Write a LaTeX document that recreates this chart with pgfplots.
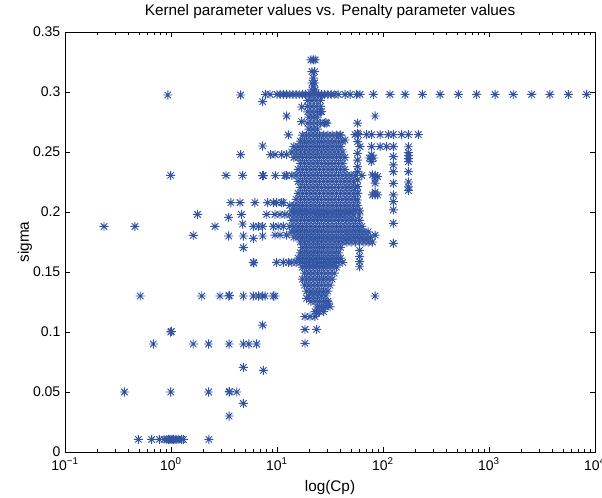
\documentclass[border=0pt]{standalone}
\usepackage{fontspec}
\setmainfont{Liberation Sans}
\usepackage{pgfplots}
\pgfplotsset{compat=1.18}
\definecolor{mk}{RGB}{50,84,162}
% matlab style asterisk: plus and cross together
\pgfdeclareplotmark{mstar}{%
  \pgfpathmoveto{\pgfqpoint{-\pgfplotmarksize}{0pt}}\pgfpathlineto{\pgfqpoint{\pgfplotmarksize}{0pt}}%
  \pgfpathmoveto{\pgfqpoint{0pt}{-\pgfplotmarksize}}\pgfpathlineto{\pgfqpoint{0pt}{\pgfplotmarksize}}%
  \pgfpathmoveto{\pgfqpoint{-.7071\pgfplotmarksize}{-.7071\pgfplotmarksize}}\pgfpathlineto{\pgfqpoint{.7071\pgfplotmarksize}{.7071\pgfplotmarksize}}%
  \pgfpathmoveto{\pgfqpoint{-.7071\pgfplotmarksize}{.7071\pgfplotmarksize}}\pgfpathlineto{\pgfqpoint{.7071\pgfplotmarksize}{-.7071\pgfplotmarksize}}%
  \pgfusepathqstroke}
\pgfplotsset{pts/.style={only marks, mark=mstar, mark size=3.4pt, color=mk, mark options={line width=0.7pt}}}

\begin{document}
\begin{tikzpicture}
\begin{axis}[
    scale only axis,
    width=397.5pt, height=315pt,
    xmin=-1, xmax=4, ymin=0, ymax=0.35,
    xtick={-1,0,1,2,3,4},
    xticklabels={10\textsuperscript{−1},10\textsuperscript{0},10\textsuperscript{1},10\textsuperscript{2},10\textsuperscript{3},10\textsuperscript{4}},
    minor xtick={-0.69897,-0.52288,-0.39794,-0.30103,-0.22185,-0.15490,-0.09691,-0.04576,
                 0.30103,0.47712,0.60206,0.69897,0.77815,0.84510,0.90309,0.95424,
                 1.30103,1.47712,1.60206,1.69897,1.77815,1.84510,1.90309,1.95424,
                 2.30103,2.47712,2.60206,2.69897,2.77815,2.84510,2.90309,2.95424,
                 3.30103,3.47712,3.60206,3.69897,3.77815,3.84510,3.90309,3.95424},
    ytick={0,0.05,0.1,0.15,0.2,0.25,0.3,0.35},
    yticklabels={0,0.05,0.1,0.15,0.2,0.25,0.3,0.35},
    tick align=inside,
    major tick length=3.5pt, minor tick length=2pt,
    every tick/.style={black, line width=0.5pt},
    axis line style={black, line width=0.6pt},
    tick label style={font=\fontsize{10.5}{12}\selectfont},
    xticklabel style={yshift=-1pt},
    title={Kernel parameter values vs. Penalty parameter values},
    every axis title/.style={font=\fontsize{11.5}{13}\selectfont, at={(axis description cs:0.5,1.0476)}, anchor=center},
    xlabel={log(Cp)},
    xlabel style={font=\fontsize{11.5}{13}\selectfont, at={(axis description cs:0.5,-0.0857)}, anchor=center},
    ylabel={sigma},
    ylabel style={font=\fontsize{11.5}{13}\selectfont, at={(axis description cs:-0.0755,0.5)}, anchor=center},
]
% scattered points, left and low
\addplot[pts] coordinates {
(-0.632,0.188) (-0.34,0.188) (-0.29,0.13) (-0.44,0.05) (-0.167,0.09)
(-0.003,0.1) (0.004,0.1005) (-0.003,0.05) (-0.03,0.2975) (-0.003,0.2305)
(0.21,0.1805) (0.25,0.198) (0.21,0.09) (0.29,0.13) (0.355,0.09) (0.355,0.05) (0.357,0.0105)
(0.415,0.188) (0.462,0.13) (0.519,0.2305) (0.544,0.1955) (0.544,0.18) (0.545,0.13) (0.55,0.1305)
(0.548,0.09) (0.548,0.05) (0.552,0.0505) (0.62,0.05) (0.548,0.03)
(0.565,0.2078) (0.651,0.2078) (0.657,0.2975) (0.657,0.2478) (0.665,0.198) (0.676,0.19) (0.682,0.18)
(0.682,0.1703) (0.676,0.2305) (0.682,0.13) (0.682,0.09) (0.735,0.09) (0.808,0.09) (0.682,0.0705) (0.682,0.0405)
(0.871,0.068) (0.865,0.1058) (0.777,0.188) (0.824,0.188) (0.865,0.188) (0.777,0.178) (0.865,0.18)
(0.777,0.158) (0.782,0.1575) (0.777,0.13) (0.824,0.13) (0.865,0.13) (0.887,0.13) (0.965,0.13) (0.981,0.13)
(0.792,0.2078) (0.912,0.2078) (0.965,0.2078) (0.997,0.2078) (1.044,0.2078) (1.06,0.2078)
(0.865,0.292) (0.865,0.255) (0.94,0.2478) (0.981,0.2478) (1.044,0.2478) (1.091,0.2478)
(0.865,0.2303) (0.871,0.2303) (0.984,0.2303) (1.075,0.2303) (1.091,0.2303)
(0.903,0.198) (0.981,0.198) (1.028,0.198) (1.075,0.198)
(0.965,0.188) (1.012,0.188) (1.06,0.188)
(0.981,0.1808) (1.028,0.1808) (1.091,0.1808)
(0.997,0.158) (1.06,0.158) (1.107,0.158)
(-0.308,0.0105) (-0.182,0.0105) (-0.11,0.0105) (-0.066,0.0105) (-0.04,0.0105) (-0.025,0.0105)
(-0.01,0.0105) (0.0,0.0105) (0.01,0.0105) (0.025,0.0105) (0.04,0.0105) (0.054,0.0105) (0.075,0.0105)
(0.1,0.0105) (0.116,0.0105)
(1.107,0.2642) (1.091,0.28) (1.233,0.2875) (1.233,0.2753) (1.421,0.2836) (1.469,0.274) (1.46,0.2745)
(1.925,0.28) (1.594,0.2642) (1.642,0.26)
};
% top row and column above it
\addplot[pts] coordinates {
(0.89,0.298) (0.934,0.298) (1.00,0.298) (1.03,0.298) (1.06,0.298) (1.09,0.298) (1.12,0.298) (1.15,0.298)
(1.18,0.298) (1.21,0.298) (1.24,0.298) (1.27,0.298) (1.30,0.298) (1.33,0.298) (1.36,0.298) (1.39,0.298)
(1.42,0.298) (1.45,0.298) (1.48,0.298) (1.51,0.298) (1.54,0.298) (1.578,0.298) (1.642,0.298) (1.689,0.298)
(1.752,0.298) (1.783,0.298) (1.909,0.298) (2.066,0.298) (2.208,0.298) (2.371,0.298) (2.538,0.298)
(2.711,0.298) (2.884,0.298) (3.057,0.298) (3.229,0.298) (3.403,0.298) (3.575,0.298) (3.748,0.298) (3.921,0.298)
(1.32,0.3267) (1.343,0.3267) (1.36,0.3267) (1.33,0.317) (1.355,0.317) (1.343,0.3115) (1.33,0.3075)
(1.355,0.3075) (1.343,0.305) (1.33,0.3017) (1.36,0.3017)
(1.29,0.293) (1.33,0.293) (1.37,0.293) (1.41,0.293)
(1.29,0.288) (1.33,0.288) (1.37,0.288) (1.41,0.288)
(1.29,0.2835) (1.33,0.2835) (1.37,0.2835) (1.41,0.2835)
(1.30,0.279) (1.34,0.279) (1.38,0.279)
(1.29,0.274) (1.33,0.274) (1.37,0.274) (1.41,0.274) (1.45,0.274)
(1.30,0.269) (1.34,0.269) (1.38,0.269)
};
% structure right of the core
\addplot[pts] coordinates {
(1.736,0.2645) (1.767,0.2645) (1.846,0.2645) (1.893,0.2645) (1.972,0.2645) (2.05,0.2645) (2.097,0.2645)
(2.176,0.2645) (2.239,0.2645) (2.333,0.2645)
(1.783,0.2545) (1.893,0.2545) (1.972,0.2545) (2.035,0.2545) (2.097,0.2545)
(2.097,0.2461) (2.097,0.2392) (2.097,0.2336) (2.097,0.2239) (2.097,0.2142) (2.097,0.2086) (2.097,0.2017)
(2.097,0.1906) (2.097,0.1739)
(1.76,0.274) (1.76,0.2656) (1.76,0.2586) (1.76,0.2489) (1.76,0.2433) (1.76,0.2378) (1.76,0.2336)
(1.76,0.2267) (1.76,0.2211) (1.76,0.2156) (1.76,0.21)
(1.87,0.245) (1.89,0.2445) (1.91,0.245) (1.89,0.2475) (1.89,0.242)
(1.90,0.231) (1.925,0.2305) (1.95,0.2295) (1.925,0.2275) (1.925,0.224)
(1.90,0.2142) (1.925,0.2142) (1.95,0.2142) (1.925,0.2165)
(1.925,0.1808) (1.925,0.13)
(2.24,0.2544) (2.24,0.2495) (2.24,0.247) (2.24,0.2445) (2.24,0.242) (2.24,0.2336) (2.24,0.225)
(2.24,0.221) (2.24,0.218)
(1.78,0.168) (1.78,0.163) (1.78,0.1586) (1.78,0.1544)
(1.264,0.1128) (1.311,0.1128) (1.358,0.1128) (1.374,0.1156) (1.453,0.121) (1.484,0.124)
(1.264,0.1022) (1.374,0.1022) (1.264,0.0906) (1.28,0.128)
};
% dense core
\addplot[pts] coordinates {
(1.24,0.264) (1.28,0.264) (1.32,0.264) (1.36,0.264) (1.40,0.264) (1.44,0.264) (1.48,0.264) (1.52,0.264) (1.56,0.264) (1.60,0.264)
(1.22,0.259) (1.26,0.259) (1.30,0.259) (1.34,0.259) (1.38,0.259) (1.42,0.259) (1.46,0.259) (1.50,0.259) (1.54,0.259) (1.58,0.259) (1.62,0.259)
(1.16,0.2545) (1.20,0.2545) (1.24,0.2545) (1.28,0.2545) (1.32,0.2545) (1.36,0.2545) (1.40,0.2545) (1.44,0.2545) (1.48,0.2545) (1.52,0.2545) (1.56,0.2545) (1.60,0.2545)
(1.14,0.25) (1.18,0.25) (1.22,0.25) (1.26,0.25) (1.30,0.25) (1.34,0.25) (1.38,0.25) (1.42,0.25) (1.46,0.25) (1.50,0.25) (1.54,0.25) (1.58,0.25) (1.62,0.25)
(1.16,0.2455) (1.20,0.2455) (1.24,0.2455) (1.28,0.2455) (1.32,0.2455) (1.36,0.2455) (1.40,0.2455) (1.44,0.2455) (1.48,0.2455) (1.52,0.2455) (1.56,0.2455) (1.60,0.2455) (1.64,0.2455)
(1.22,0.2405) (1.26,0.2405) (1.30,0.2405) (1.34,0.2405) (1.38,0.2405) (1.42,0.2405) (1.46,0.2405) (1.50,0.2405) (1.54,0.2405) (1.58,0.2405) (1.62,0.2405)
(1.20,0.2355) (1.24,0.2355) (1.28,0.2355) (1.32,0.2355) (1.36,0.2355) (1.40,0.2355) (1.44,0.2355) (1.48,0.2355) (1.52,0.2355) (1.56,0.2355) (1.60,0.2355) (1.64,0.2355)
(1.14,0.2305) (1.18,0.2305) (1.22,0.2305) (1.26,0.2305) (1.30,0.2305) (1.34,0.2305) (1.38,0.2305) (1.42,0.2305) (1.46,0.2305) (1.50,0.2305) (1.54,0.2305) (1.58,0.2305) (1.62,0.2305) (1.66,0.2305) (1.70,0.2305) (1.74,0.2305) (1.80,0.2305)
(1.20,0.2255) (1.24,0.2255) (1.28,0.2255) (1.32,0.2255) (1.36,0.2255) (1.40,0.2255) (1.44,0.2255) (1.48,0.2255) (1.52,0.2255) (1.56,0.2255) (1.60,0.2255) (1.64,0.2255) (1.68,0.2255) (1.72,0.2255)
(1.22,0.2205) (1.26,0.2205) (1.30,0.2205) (1.34,0.2205) (1.38,0.2205) (1.42,0.2205) (1.46,0.2205) (1.50,0.2205) (1.54,0.2205) (1.58,0.2205) (1.62,0.2205) (1.66,0.2205) (1.70,0.2205) (1.74,0.2205)
(1.20,0.2155) (1.24,0.2155) (1.28,0.2155) (1.32,0.2155) (1.36,0.2155) (1.40,0.2155) (1.44,0.2155) (1.48,0.2155) (1.52,0.2155) (1.56,0.2155) (1.60,0.2155) (1.64,0.2155) (1.68,0.2155) (1.72,0.2155) (1.76,0.2155)
(1.18,0.2105) (1.22,0.2105) (1.26,0.2105) (1.30,0.2105) (1.34,0.2105) (1.38,0.2105) (1.42,0.2105) (1.46,0.2105) (1.50,0.2105) (1.54,0.2105) (1.58,0.2105) (1.62,0.2105) (1.66,0.2105) (1.70,0.2105) (1.74,0.2105)
(1.12,0.2055) (1.16,0.2055) (1.20,0.2055) (1.24,0.2055) (1.28,0.2055) (1.32,0.2055) (1.36,0.2055) (1.40,0.2055) (1.44,0.2055) (1.48,0.2055) (1.52,0.2055) (1.56,0.2055) (1.60,0.2055) (1.64,0.2055) (1.68,0.2055) (1.72,0.2055) (1.76,0.2055)
(1.14,0.201) (1.18,0.201) (1.22,0.201) (1.26,0.201) (1.30,0.201) (1.34,0.201) (1.38,0.201) (1.42,0.201) (1.46,0.201) (1.50,0.201) (1.54,0.201) (1.58,0.201) (1.62,0.201) (1.66,0.201) (1.70,0.201) (1.74,0.201) (1.78,0.201)
(1.12,0.1975) (1.16,0.1975) (1.20,0.1975) (1.24,0.1975) (1.28,0.1975) (1.32,0.1975) (1.36,0.1975) (1.40,0.1975) (1.44,0.1975) (1.48,0.1975) (1.52,0.1975) (1.56,0.1975) (1.60,0.1975) (1.64,0.1975) (1.68,0.1975) (1.72,0.1975) (1.774,0.1975)
(1.14,0.193) (1.18,0.193) (1.22,0.193) (1.26,0.193) (1.30,0.193) (1.34,0.193) (1.38,0.193) (1.42,0.193) (1.46,0.193) (1.50,0.193) (1.54,0.193) (1.58,0.193) (1.62,0.193) (1.66,0.193) (1.70,0.193) (1.74,0.193) (1.78,0.193)
(1.12,0.188) (1.16,0.188) (1.20,0.188) (1.24,0.188) (1.28,0.188) (1.32,0.188) (1.36,0.188) (1.40,0.188) (1.44,0.188) (1.48,0.188) (1.52,0.188) (1.56,0.188) (1.60,0.188) (1.64,0.188) (1.68,0.188) (1.72,0.188) (1.76,0.188) (1.80,0.188)
(1.14,0.1835) (1.18,0.1835) (1.22,0.1835) (1.26,0.1835) (1.30,0.1835) (1.34,0.1835) (1.38,0.1835) (1.42,0.1835) (1.46,0.1835) (1.50,0.1835) (1.54,0.1835) (1.58,0.1835) (1.62,0.1835) (1.66,0.1835) (1.70,0.1835) (1.74,0.1835) (1.78,0.1835) (1.82,0.1835) (1.86,0.1835)
(1.16,0.179) (1.20,0.179) (1.24,0.179) (1.28,0.179) (1.32,0.179) (1.36,0.179) (1.40,0.179) (1.44,0.179) (1.48,0.179) (1.52,0.179) (1.56,0.179) (1.60,0.179) (1.64,0.179) (1.68,0.179) (1.72,0.179) (1.76,0.179) (1.80,0.179) (1.84,0.179) (1.88,0.179)
(1.22,0.175) (1.26,0.175) (1.30,0.175) (1.34,0.175) (1.38,0.175) (1.42,0.175) (1.46,0.175) (1.50,0.175) (1.54,0.175) (1.58,0.175) (1.62,0.175) (1.66,0.175) (1.70,0.175) (1.74,0.175) (1.78,0.175) (1.82,0.175) (1.86,0.175) (1.90,0.175)
(1.24,0.1705) (1.28,0.1705) (1.32,0.1705) (1.36,0.1705) (1.40,0.1705) (1.44,0.1705) (1.48,0.1705) (1.52,0.1705) (1.56,0.1705) (1.60,0.1705)
(1.22,0.166) (1.26,0.166) (1.30,0.166) (1.34,0.166) (1.38,0.166) (1.42,0.166) (1.46,0.166) (1.50,0.166) (1.54,0.166) (1.58,0.166)
(1.20,0.1615) (1.24,0.1615) (1.28,0.1615) (1.32,0.1615) (1.36,0.1615) (1.40,0.1615) (1.44,0.1615) (1.48,0.1615) (1.52,0.1615) (1.56,0.1615) (1.60,0.1615)
(1.14,0.158) (1.18,0.158) (1.22,0.158) (1.26,0.158) (1.30,0.158) (1.34,0.158) (1.38,0.158) (1.42,0.158) (1.46,0.158) (1.50,0.158) (1.54,0.158) (1.58,0.158) (1.62,0.158)
(1.24,0.154) (1.28,0.154) (1.32,0.154) (1.36,0.154) (1.40,0.154) (1.44,0.154) (1.48,0.154) (1.52,0.154) (1.56,0.154)
(1.26,0.149) (1.30,0.149) (1.34,0.149) (1.38,0.149) (1.42,0.149) (1.46,0.149) (1.50,0.149) (1.54,0.149)
(1.24,0.144) (1.28,0.144) (1.32,0.144) (1.36,0.144) (1.40,0.144) (1.44,0.144) (1.48,0.144) (1.52,0.144)
(1.26,0.139) (1.30,0.139) (1.34,0.139) (1.38,0.139) (1.42,0.139) (1.46,0.139) (1.50,0.139)
(1.28,0.134) (1.32,0.134) (1.36,0.134) (1.40,0.134) (1.44,0.134) (1.48,0.134)
(1.30,0.13) (1.34,0.13) (1.38,0.13) (1.42,0.13) (1.46,0.13)
(1.32,0.1255) (1.36,0.1255) (1.40,0.1255) (1.44,0.1255) (1.48,0.1255)
(1.38,0.121) (1.42,0.121) (1.46,0.121) (1.50,0.121)
(1.36,0.117) (1.40,0.117) (1.44,0.117)
};
\end{axis}
\pgfresetboundingbox
\path[use as bounding box] (-48.75pt,-33.75pt) rectangle (402.75pt,339pt);
\end{tikzpicture}
\end{document}
